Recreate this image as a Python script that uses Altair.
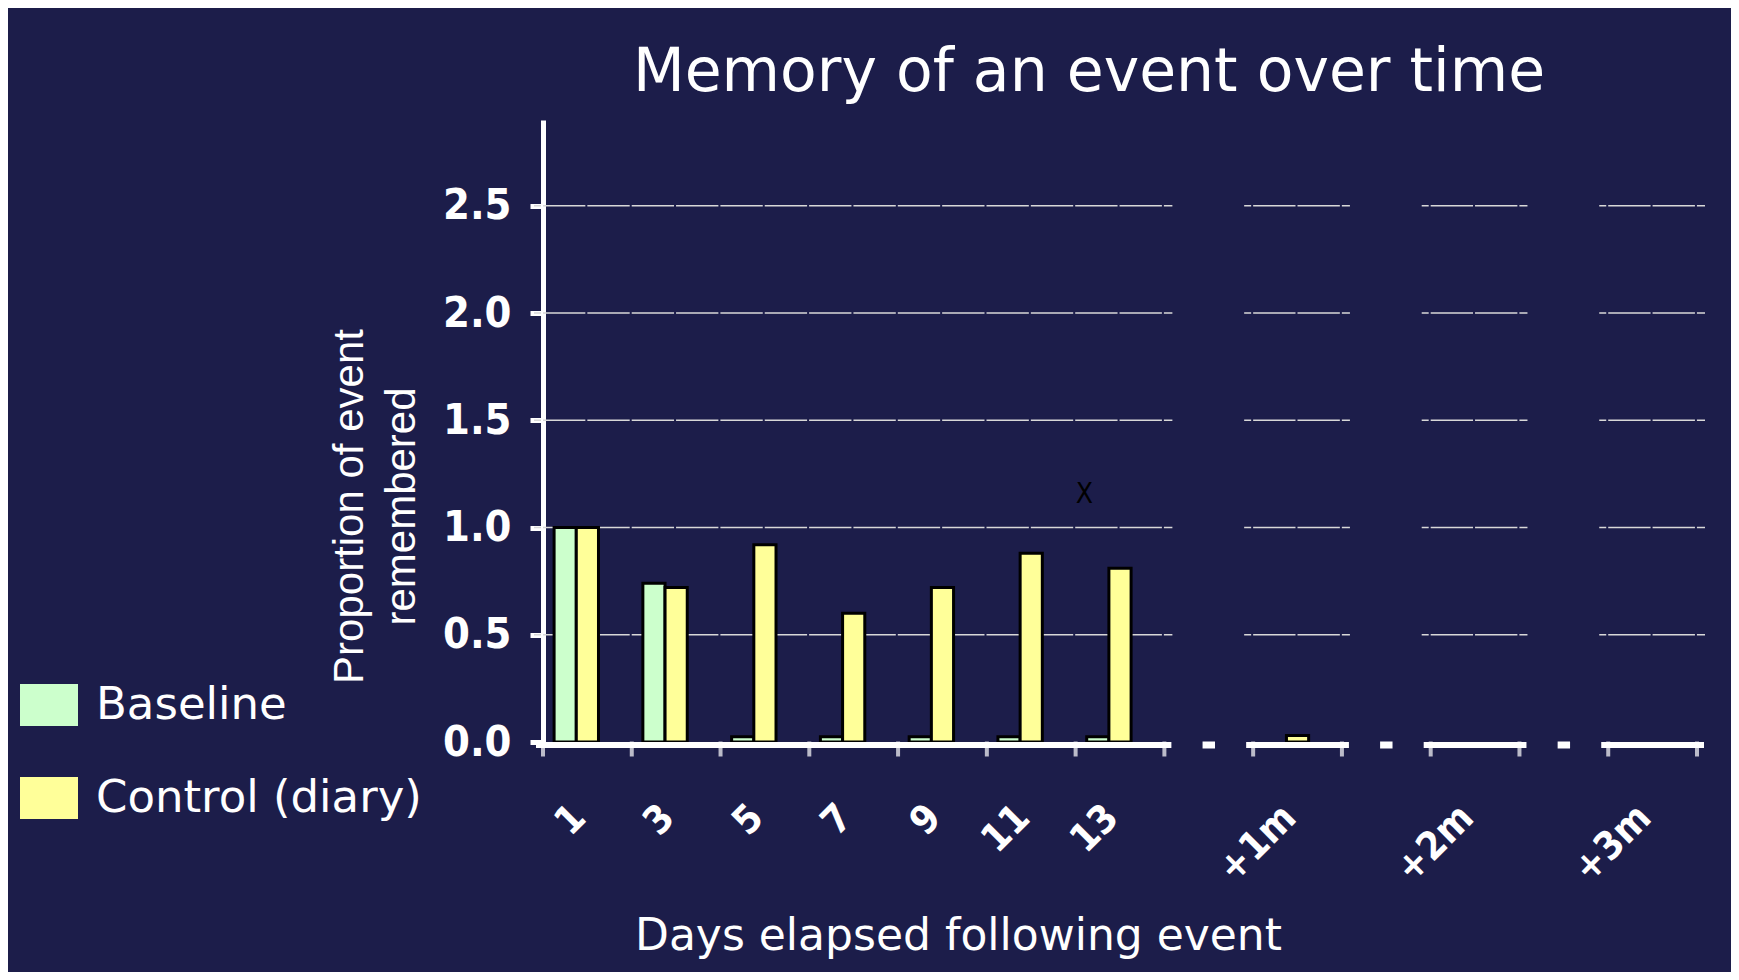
import altair as alt
import pandas as pd

# ---- data ----
days = ["1", "3", "5", "7", "9", "11", "13", "+1m", "+2m", "+3m"]
slots = ["1", "3", "5", "7", "9", "11", "13", " ", "+1m", "  ", "+2m", "   ", "+3m"]
gaps = [" ", "  ", "   "]
panel_starts = ["1", "+1m", "+2m", "+3m"]
panel_ends = ["13", "+1m", "+2m", "+3m"]
baseline = [1.0, 0.74, 0.025, 0.025, 0.025, 0.025, 0.025, None, None, None]
control = [1.0, 0.72, 0.92, 0.60, 0.72, 0.88, 0.81, 0.03, None, None]
series = ["Baseline", "Control (diary)", "Intervention"]
colors = ["#ccffcc", "#ffff99"]
y_ticks = [0.0, 0.5, 1.0, 1.5, 2.0, 2.5]
grid_levels = [0.5, 1.0, 1.5, 2.0, 2.5]
marker_text = ["X"]
marker_day = ["13"]
marker_value = [1.15]

rows = []
for d, b, c in zip(days, baseline, control):
    if b is not None:
        rows.append({"day": d, "series": "Baseline", "value": b})
    if c is not None:
        rows.append({"day": d, "series": "Control (diary)", "value": c})
bars_df = pd.DataFrame(rows)
panels_df = pd.DataFrame({"start": panel_starts, "end": panel_ends})
grid_df = pd.DataFrame(
    [{"start": s, "end": e, "level": g} for s, e in zip(panel_starts, panel_ends) for g in grid_levels]
)
axis_df = pd.DataFrame({"day": days})
gap_df = pd.DataFrame({"day": gaps})
end_df = pd.DataFrame({"day": panel_ends})
mark_df = pd.DataFrame({"day": marker_day, "label": marker_text, "value": marker_value})

BG = "#1c1d4a"
W, H = 1154, 622
TICKFONT = "DejaVu Sans Condensed"

xscale = alt.Scale(domain=slots, paddingInner=0, paddingOuter=0)
xaxis = alt.Axis(
    domain=False, ticks=False, labelAngle=315, labelAlign="right", labelBaseline="middle",
    labelPadding=69, labelOffset=-8, labelColor="white", labelFont=TICKFONT,
    labelFontWeight="bold", labelFontSize=39, labelOverlap=False, labelBound=False,
    title="Days elapsed following event", titleFont="DejaVu Sans", titleFontSize=44,
    titleFontWeight="normal", titleColor="white", titleX=415, titleY=207,
    titleAlign="center", titleBaseline="alphabetic",
)
yscale = alt.Scale(domain=[0, 2.9], nice=False, zero=True)
yaxis = alt.Axis(
    values=y_ticks, format=".1f", domainColor="white", domainWidth=5, tickColor="white",
    tickWidth=5, tickSize=13, labelColor="white", labelFont=TICKFONT,
    labelFontWeight="bold", labelFontSize=43, labelPadding=19, grid=False,
    title=["Proportion of event", "remembered"], titleFont="Liberation Sans",
    titleFontSize=42, titleFontWeight="normal", titleColor="white", titleAngle=270,
    titleX=-181, titleY=386, titleAlign="center", titleBaseline="alphabetic",
    titleLineHeight=52,
)


def xenc(field="day:N", bp=0.5):
    return alt.X(field, scale=xscale, axis=xaxis, bandPosition=bp)


def yenc(field):
    return alt.Y(field, scale=yscale, axis=yaxis)


y_zero = alt.Y(datum=0, scale=yscale, axis=yaxis)

grid = alt.Chart(grid_df).mark_rule(
    color="#d8d8d8", strokeWidth=1.5, strokeDash=[42.35, 2], strokeDashOffset=35.35,
    xOffset=-9, x2Offset=8,
).encode(x=xenc("start:N", 0), x2=alt.X2("end:N", bandPosition=1), y=yenc("level:Q"))

bars = alt.Chart(bars_df).mark_bar(stroke="black", strokeWidth=3).encode(
    x=xenc(),
    xOffset=alt.XOffset("series:N", scale=alt.Scale(domain=series, paddingInner=0, paddingOuter=0.5)),
    y=yenc("value:Q"),
    color=alt.Color(
        "series:N",
        scale=alt.Scale(domain=series[:2], range=colors),
        legend=alt.Legend(
            title=None, orient="none", legendX=-523, legendY=556,
            symbolType="M-1,-0.72H1V0.72H-1Z", symbolSize=3364, symbolStrokeWidth=0,
            labelFont="DejaVu Sans", labelFontSize=45, labelColor="white", labelLimit=500,
            labelOffset=18, rowPadding=41, padding=0,
        ),
    ),
)

axis_line = alt.Chart(panels_df).mark_rule(
    color="white", strokeWidth=6, yOffset=3, xOffset=-7, x2Offset=7
).encode(x=xenc("start:N", 0), x2=alt.X2("end:N", bandPosition=1), y=y_zero)

gap_dash = alt.Chart(gap_df).mark_rule(
    color="white", strokeWidth=7, yOffset=3
).encode(x=xenc("day:N", 0.43), x2=alt.X2("day:N", bandPosition=0.57), y=y_zero)

ticks_start = alt.Chart(axis_df).mark_tick(
    color="white", orient="vertical", size=15, thickness=4, yOffset=7
).encode(x=xenc("day:N", 0), y=y_zero)

ticks_end = alt.Chart(end_df).mark_tick(
    color="white", orient="vertical", size=15, thickness=4, yOffset=7
).encode(x=xenc("day:N", 1), y=y_zero)

marker = alt.Chart(mark_df).mark_text(
    font="DejaVu Sans Condensed", fontSize=28, color="black", baseline="middle"
).encode(x=xenc("day:N", 0.1), y=yenc("value:Q"), text="label:N")

chart = alt.layer(grid, bars, axis_line, gap_dash, ticks_start, ticks_end, marker).properties(
    width=W, height=H,
    autosize=alt.AutoSizeParams(type="none"),
    padding={"left": 535, "top": 112, "right": 34, "bottom": 230},
    background=BG,
    title=alt.TitleParams(
        "Memory of an event over time", font="DejaVu Sans", fontSize=60,
        fontWeight="normal", color="white", anchor="middle", dx=-31, offset=29,
        dy=60, baseline="alphabetic",
    ),
).configure_view(stroke=None)

chart.save("out.html", embed_options={"renderer": "svg", "actions": False})
